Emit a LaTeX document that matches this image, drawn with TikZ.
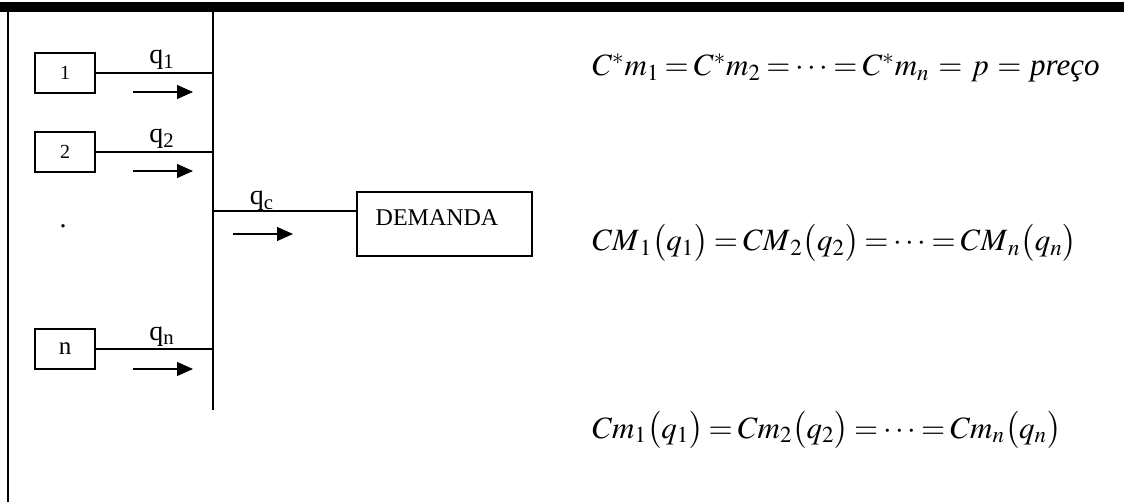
\documentclass[tikz,border=0pt]{standalone}
\usepackage{mathptmx}
\usepackage[no-math]{fontspec}
\setmainfont{Liberation Serif}
\usetikzlibrary{arrows.meta}

\begin{document}
\begin{tikzpicture}[x=0.5pt, y=-0.5pt,
    caixa/.style={draw, line width=0.6pt, minimum width=30pt, minimum height=20pt, inner sep=0pt},
    fio/.style={line width=0.6pt},
    seta/.style={line width=0.6pt, -{Triangle[length=8pt, width=7pt]}},
    rotulo/.style={anchor=base, font=\fontsize{14}{16}\selectfont, inner sep=0pt},
    eq/.style={anchor=base west, font=\fontsize{15.5}{18}\selectfont, inner sep=0pt,
        execute at begin node={\thickmuskip=3mu plus 1mu}}]
    \useasboundingbox (0,0) rectangle (1124,502);
    % moldura: barra superior e lado esquerdo
    \fill (0,2) rectangle (1124,12); \fill (6.8,12) rectangle (9.2,502);
    % barramento vertical
    \coordinate (topo) at (213,12); \coordinate (base) at (213,410);
    \draw[fio] (topo) -- (base);
    % firmas 1, 2, ..., n
    \node[caixa, font=\fontsize{10}{12}\selectfont] (f1) at (65,73) {1};
    \node[caixa, font=\fontsize{10}{12}\selectfont] (f2) at (65,152) {2};
    \node[caixa, font=\fontsize{12.5}{14}\selectfont] (fn) at (65,349) {n};
    \node[rotulo] (pontos) at (63,228) {.};
    \foreach \f in {1,2,n} {\draw[fio] (f\f.east) -- (f\f.east -| topo);}
    \node[rotulo] at (162,64) {q\textsubscript{1}};
    \node[rotulo] at (162,143) {q\textsubscript{2}};
    \node[rotulo] at (162,340) {q\textsubscript{n}};
    \coordinate (a1) at (133,92); \coordinate (b1) at (193,92);
    \coordinate (a2) at (133,171); \coordinate (b2) at (193,171);
    \coordinate (an) at (133,369); \coordinate (bn) at (193,369);
    \draw[seta] (a1) -- (b1); \draw[seta] (a2) -- (b2); \draw[seta] (an) -- (bn);
    % quantidade total para a demanda
    \node[caixa, minimum width=87.5pt, minimum height=32pt,
        label={[xshift=-3.75pt, yshift=3pt, font=\fontsize{12}{14}\selectfont]center:DEMANDA}] (demanda) at (444.5,224) {};
    \coordinate (qc) at (213,211);
    \draw[fio] (qc) -- (qc -| demanda.west);
    \node[rotulo] at (262,205) {q\textsubscript{c}};
    \coordinate (ac) at (233,234); \coordinate (bc) at (293,234);
    \draw[seta] (ac) -- (bc);
    % condicoes de equilibrio
    \node[eq] (eq1) at (592,76) {$C^{*}m_{1} = C^{*}m_{2} = \cdots = C^{*}m_{n} \,=\, p \,=\, \textit{preço}$};
    \node[eq] (eq2) at (592,251) {$CM_{\,1}\bigl(q_{1}\bigr) = CM_{\,2}\bigl(q_{2}\bigr) = \cdots = CM_{\,n}\bigl(q_{n}\bigr)$};
    \node[eq] (eq3) at (592,438) {$Cm_{1}\bigl(q_{1}\bigr) = Cm_{2}\bigl(q_{2}\bigr) = \cdots = Cm_{n}\bigl(q_{n}\bigr)$};
\end{tikzpicture}
\end{document}
